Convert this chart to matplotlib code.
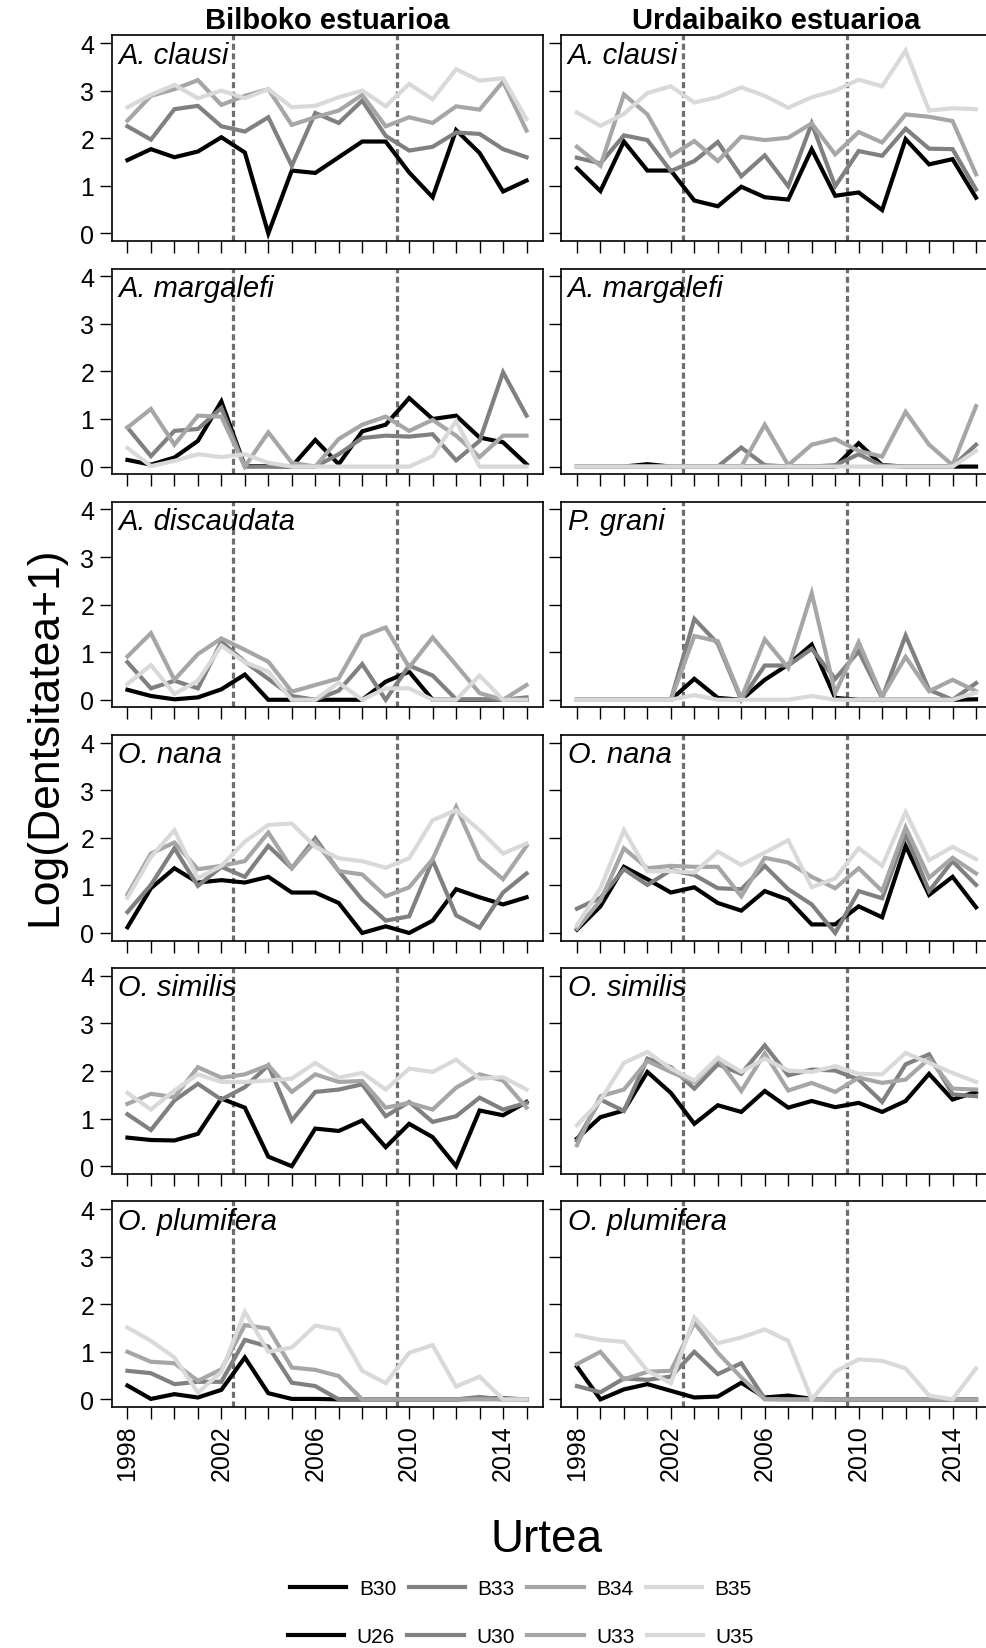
import numpy as np
import matplotlib
matplotlib.use('Agg')
import matplotlib.pyplot as plt

plt.rcParams['font.family'] = ['Liberation Sans', 'DejaVu Sans']

years = np.arange(1998, 2016)
year_labels = [1998, 2002, 2006, 2010, 2014]
breaks = [2002.5, 2009.5]

stations_bil = ['B30', 'B33', 'B34', 'B35']
stations_urd = ['U26', 'U30', 'U33', 'U35']
station_colors = ['#000000', '#808080', '#a6a6a6', '#d9d9d9']

species_bil = ['A. clausi', 'A. margalefi', 'A. discaudata', 'O. nana', 'O. similis', 'O. plumifera']
species_urd = ['A. clausi', 'A. margalefi', 'P. grani', 'O. nana', 'O. similis', 'O. plumifera']

# Bilbao: rows are B30, B33, B34, B35
bil_aclausi = [
    [1.54, 1.77, 1.60, 1.72, 2.02, 1.70, 0.00, 1.32, 1.27, 1.60, 1.93, 1.93, 1.28, 0.76, 2.17, 1.69, 0.88, 1.11],
    [2.25, 1.97, 2.61, 2.68, 2.25, 2.14, 2.44, 1.42, 2.53, 2.32, 2.79, 2.05, 1.74, 1.82, 2.12, 2.09, 1.77, 1.60],
    [2.37, 2.89, 3.03, 3.22, 2.70, 2.89, 3.03, 2.28, 2.44, 2.58, 2.91, 2.25, 2.44, 2.32, 2.67, 2.60, 3.19, 2.16],
    [2.65, 2.91, 3.12, 2.84, 3.00, 2.84, 3.03, 2.65, 2.68, 2.86, 3.00, 2.67, 3.14, 2.82, 3.45, 3.21, 3.26, 2.40],
]
bil_amargalefi = [
    [0.14, 0.04, 0.19, 0.54, 1.37, 0.01, 0.01, 0.00, 0.56, 0.05, 0.74, 0.88, 1.44, 1.00, 1.07, 0.61, 0.51, 0.05],
    [0.82, 0.22, 0.75, 0.79, 1.23, 0.00, 0.00, 0.00, 0.00, 0.26, 0.60, 0.65, 0.63, 0.68, 0.13, 0.54, 1.98, 1.07],
    [0.82, 1.21, 0.46, 1.07, 1.05, 0.00, 0.72, 0.08, 0.00, 0.58, 0.88, 1.05, 0.75, 0.98, 0.65, 0.20, 0.65, 0.65],
    [0.39, 0.01, 0.12, 0.26, 0.20, 0.26, 0.08, 0.00, 0.00, 0.00, 0.00, 0.00, 0.00, 0.22, 0.96, 0.00, 0.00, 0.00],
]
bil_adiscaudata = [
    [0.21, 0.08, 0.01, 0.05, 0.22, 0.53, 0.00, 0.00, 0.00, 0.00, 0.00, 0.38, 0.59, 0.00, 0.00, 0.00, 0.00, 0.00],
    [0.79, 0.24, 0.40, 0.24, 1.22, 0.80, 0.44, 0.08, 0.00, 0.19, 0.75, 0.00, 0.72, 0.51, 0.01, 0.01, 0.00, 0.05],
    [0.91, 1.40, 0.42, 0.96, 1.29, 1.05, 0.80, 0.17, 0.31, 0.45, 1.33, 1.52, 0.68, 1.31, 0.73, 0.14, 0.00, 0.31],
    [0.33, 0.73, 0.12, 0.40, 1.14, 0.79, 0.59, 0.00, 0.00, 0.36, 0.00, 0.24, 0.24, 0.00, 0.00, 0.51, 0.00, 0.00],
]
bil_onana = [
    [0.12, 0.94, 1.36, 1.06, 1.11, 1.06, 1.18, 0.85, 0.85, 0.63, 0.00, 0.14, 0.00, 0.26, 0.92, 0.75, 0.60, 0.75],
    [0.44, 1.01, 1.78, 0.99, 1.39, 1.18, 1.83, 1.36, 1.99, 1.30, 0.70, 0.26, 0.35, 1.53, 0.37, 0.11, 0.85, 1.25],
    [0.81, 1.67, 1.90, 1.34, 1.41, 1.51, 2.11, 1.36, 1.92, 1.30, 1.23, 0.77, 0.96, 1.55, 2.65, 1.55, 1.13, 1.83],
    [0.74, 1.60, 2.16, 1.15, 1.41, 1.92, 2.27, 2.30, 1.81, 1.57, 1.51, 1.37, 1.57, 2.37, 2.58, 2.16, 1.67, 1.88],
]
bil_osimilis = [
    [0.60, 0.55, 0.54, 0.68, 1.42, 1.23, 0.20, 0.00, 0.79, 0.74, 0.96, 0.40, 0.89, 0.61, 0.00, 1.17, 1.07, 1.35],
    [1.09, 0.76, 1.38, 1.73, 1.40, 1.66, 2.12, 0.96, 1.56, 1.61, 1.72, 1.05, 1.35, 0.93, 1.05, 1.44, 1.19, 1.33],
    [1.31, 1.52, 1.45, 2.08, 1.86, 1.93, 2.12, 1.56, 1.93, 1.77, 1.79, 1.23, 1.33, 1.19, 1.65, 1.93, 1.80, 1.23],
    [1.54, 1.19, 1.59, 1.93, 1.77, 1.77, 1.80, 1.84, 2.17, 1.86, 1.96, 1.61, 2.05, 1.98, 2.24, 1.84, 1.87, 1.61],
]
bil_oplumifera = [
    [0.29, 0.01, 0.11, 0.04, 0.20, 0.88, 0.13, 0.01, 0.01, 0.00, 0.00, 0.00, 0.00, 0.00, 0.00, 0.02, 0.02, 0.00],
    [0.60, 0.55, 0.32, 0.37, 0.37, 1.25, 1.11, 0.35, 0.28, 0.00, 0.00, 0.00, 0.00, 0.00, 0.00, 0.05, 0.00, 0.00],
    [1.00, 0.79, 0.76, 0.39, 0.63, 1.56, 1.49, 0.67, 0.62, 0.49, 0.00, 0.00, 0.00, 0.00, 0.00, 0.00, 0.00, 0.00],
    [1.51, 1.23, 0.88, 0.14, 0.58, 1.84, 1.00, 1.09, 1.55, 1.46, 0.60, 0.34, 0.98, 1.14, 0.27, 0.48, 0.00, 0.00],
]

# Urdaibai: rows are U26, U30, U33, U35
urd_aclausi = [
    [1.37, 0.89, 1.93, 1.32, 1.32, 0.69, 0.57, 0.98, 0.76, 0.71, 1.77, 0.79, 0.86, 0.49, 1.98, 1.45, 1.56, 0.75],
    [1.59, 1.47, 2.06, 1.96, 1.31, 1.52, 1.92, 1.20, 1.64, 0.99, 2.31, 0.99, 1.73, 1.63, 2.20, 1.78, 1.77, 0.92],
    [1.82, 1.42, 2.92, 2.50, 1.63, 1.94, 1.52, 2.03, 1.96, 2.01, 2.31, 1.66, 2.13, 1.91, 2.50, 2.45, 2.36, 1.24],
    [2.54, 2.26, 2.51, 2.95, 3.09, 2.75, 2.86, 3.07, 2.89, 2.64, 2.86, 3.00, 3.23, 3.09, 3.84, 2.58, 2.63, 2.61],
]
urd_amargalefi = [
    [0.00, 0.00, 0.00, 0.05, 0.00, 0.00, 0.00, 0.00, 0.00, 0.00, 0.00, 0.00, 0.49, 0.03, 0.00, 0.00, 0.00, 0.00],
    [0.00, 0.00, 0.00, 0.00, 0.00, 0.00, 0.00, 0.40, 0.03, 0.00, 0.00, 0.03, 0.26, 0.02, 0.00, 0.00, 0.00, 0.46],
    [0.00, 0.00, 0.00, 0.00, 0.00, 0.00, 0.00, 0.00, 0.88, 0.03, 0.46, 0.58, 0.33, 0.21, 1.15, 0.46, 0.03, 1.27],
    [0.00, 0.00, 0.00, 0.00, 0.00, 0.00, 0.00, 0.00, 0.00, 0.00, 0.00, 0.00, 0.00, 0.00, 0.00, 0.00, 0.00, 0.33],
]
urd_pgrani = [
    [0.00, 0.00, 0.00, 0.00, 0.00, 0.44, 0.04, 0.00, 0.42, 0.74, 1.16, 0.04, 0.00, 0.00, 0.00, 0.00, 0.00, 0.01],
    [0.00, 0.00, 0.00, 0.00, 0.00, 1.70, 1.18, 0.00, 0.72, 0.72, 1.07, 0.44, 1.02, 0.04, 1.35, 0.21, 0.00, 0.35],
    [0.00, 0.00, 0.00, 0.00, 0.00, 1.34, 1.23, 0.03, 1.27, 0.67, 2.24, 0.14, 1.21, 0.07, 0.90, 0.18, 0.42, 0.18],
    [0.00, 0.00, 0.00, 0.00, 0.00, 0.10, 0.00, 0.00, 0.00, 0.00, 0.08, 0.00, 0.00, 0.00, 0.00, 0.00, 0.00, 0.15],
]
urd_onana = [
    [0.07, 0.56, 1.39, 1.13, 0.85, 0.96, 0.63, 0.47, 0.88, 0.70, 0.18, 0.18, 0.56, 0.33, 1.83, 0.80, 1.18, 0.54],
    [0.51, 0.74, 1.34, 1.01, 1.32, 1.22, 0.94, 0.92, 1.41, 0.92, 0.60, 0.00, 0.88, 0.73, 2.08, 0.88, 1.51, 1.01],
    [0.09, 0.68, 1.78, 1.36, 1.41, 1.39, 1.39, 0.77, 1.58, 1.48, 1.18, 0.94, 1.36, 0.88, 2.22, 1.16, 1.58, 1.25],
    [0.16, 0.94, 2.16, 1.30, 1.30, 1.27, 1.71, 1.43, 1.69, 1.95, 0.96, 1.15, 1.78, 1.41, 2.54, 1.53, 1.81, 1.55],
]
urd_osimilis = [
    [0.58, 1.03, 1.17, 1.98, 1.54, 0.89, 1.28, 1.14, 1.58, 1.23, 1.37, 1.24, 1.33, 1.14, 1.37, 1.94, 1.40, 1.56],
    [0.54, 1.40, 1.16, 2.26, 2.08, 1.63, 2.14, 1.94, 2.54, 1.91, 2.03, 2.01, 1.82, 1.35, 2.14, 2.35, 1.51, 1.47],
    [0.44, 1.47, 1.61, 2.21, 1.98, 1.77, 2.26, 1.58, 2.37, 1.59, 1.75, 1.56, 1.86, 1.75, 1.82, 2.26, 1.63, 1.61],
    [0.86, 1.38, 2.17, 2.40, 2.05, 1.80, 2.28, 1.98, 2.26, 2.01, 1.98, 2.10, 1.94, 1.93, 2.38, 2.17, 1.96, 1.77],
]
urd_oplumifera = [
    [0.69, 0.00, 0.21, 0.32, 0.18, 0.04, 0.06, 0.35, 0.04, 0.08, 0.01, 0.00, 0.00, 0.00, 0.00, 0.00, 0.00, 0.00],
    [0.28, 0.15, 0.44, 0.41, 0.48, 1.00, 0.53, 0.76, 0.01, 0.00, 0.00, 0.00, 0.00, 0.00, 0.00, 0.00, 0.00, 0.00],
    [0.74, 1.00, 0.42, 0.58, 0.60, 1.61, 0.98, 0.46, 0.00, 0.00, 0.00, 0.00, 0.00, 0.00, 0.00, 0.00, 0.00, 0.00],
    [1.35, 1.25, 1.21, 0.60, 0.34, 1.72, 1.18, 1.30, 1.47, 1.23, 0.00, 0.58, 0.84, 0.81, 0.65, 0.08, 0.00, 0.65],
]

bil_panels = [bil_aclausi, bil_amargalefi, bil_adiscaudata, bil_onana, bil_osimilis, bil_oplumifera]
urd_panels = [urd_aclausi, urd_amargalefi, urd_pgrani, urd_onana, urd_osimilis, urd_oplumifera]

W, H = 986, 1649
fig = plt.figure(figsize=(W / 100, H / 100), dpi=100)


def add_panel(x0, y0, w, h):
    return fig.add_axes([x0 / W, 1 - (y0 + h) / H, w / W, h / H])


col_left = [111.5, 561]
panel_w = 431
panel_h = 205.6
row_top = [36.4 + i * 233.2 for i in range(6)]

handles_bil, handles_urd = [], []
for col, (panels, species, stations) in enumerate([(bil_panels, species_bil, stations_bil),
                                                    (urd_panels, species_urd, stations_urd)]):
    for row in range(6):
        ax = add_panel(col_left[col], row_top[row], panel_w, panel_h)
        for b in breaks:
            ax.axvline(b, color='#6e6e6e', lw=2.3, linestyle=(0, (1.9, 1.1)), zorder=1)
        for k, series in enumerate(panels[row]):
            ln, = ax.plot(years, series, color=station_colors[k], lw=3.0,
                          solid_joinstyle='miter', zorder=2 + k, label=stations[k])
            if row == 0:
                (handles_bil if col == 0 else handles_urd).append(ln)
        ax.set_xlim(1997.32, 2015.68)
        ax.set_ylim(-0.16, 4.16)
        ax.set_xticks(years)
        if row == 5:
            ax.set_xticklabels([str(y) if y in year_labels else '' for y in years],
                               rotation=90, fontsize=18)
        else:
            ax.set_xticklabels([])
        ax.set_yticks([0, 1, 2, 3, 4])
        if col == 0:
            ax.set_yticklabels(['0', '1', '2', '3', '4'], fontsize=18)
        else:
            ax.set_yticklabels([])
        ax.tick_params(direction='out', length=8.5, width=1.0, pad=4)
        for s in ax.spines.values():
            s.set_linewidth(1.2)
        ax.text(0.016, 0.975, species[row], transform=ax.transAxes, style='italic',
                fontsize=21, va='top', ha='left', zorder=10)

fig.text((111.5 + panel_w / 2) / W, 1 - 21 / H, 'Bilboko estuarioa', fontsize=21,
         fontweight='bold', ha='center', va='center')
fig.text((561 + panel_w / 2) / W, 1 - 21 / H, 'Urdaibaiko estuarioa', fontsize=21,
         fontweight='bold', ha='center', va='center')
fig.text(45 / W, 1 - 736 / H, 'Log(Dentsitatea+1)', fontsize=32, rotation=90,
         ha='center', va='center')
fig.text(547 / W, 1 - 1540 / H, 'Urtea', fontsize=33, ha='center', va='center')

leg_kw = dict(ncol=4, loc='center', frameon=False, fontsize=15, handlelength=2.7,
              handletextpad=0.6, columnspacing=0.6)
fig.legend(handles=handles_bil, labels=stations_bil, bbox_to_anchor=(521 / W, 1 - 1590 / H), **leg_kw)
fig.legend(handles=handles_urd, labels=stations_urd, bbox_to_anchor=(521 / W, 1 - 1638 / H), **leg_kw)

fig.savefig('out.png', dpi=100)
